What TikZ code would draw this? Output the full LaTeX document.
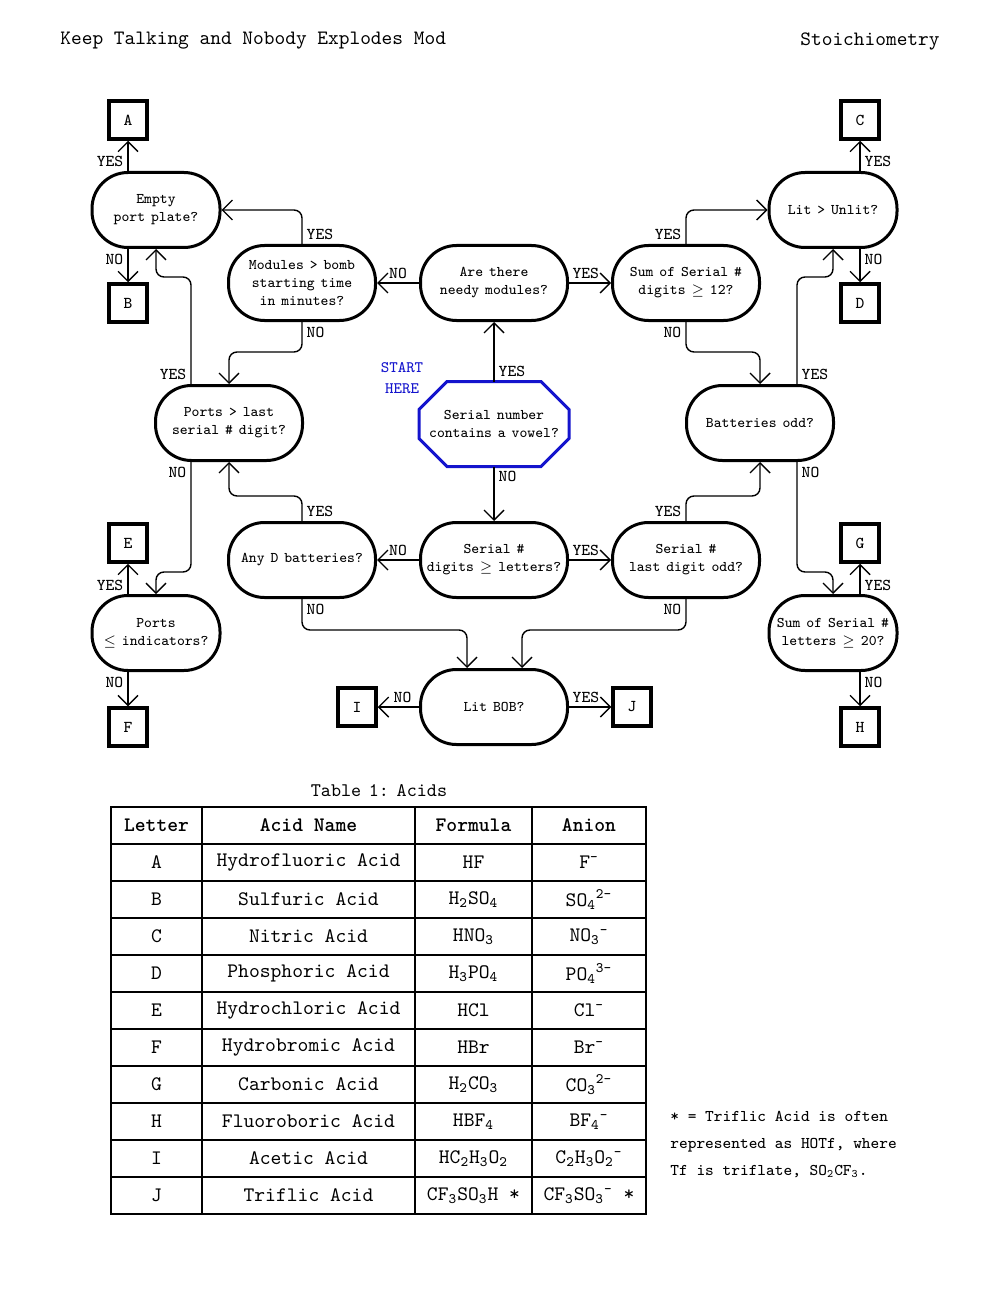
\documentclass[tikz,border=0pt]{standalone}
\usetikzlibrary{arrows.meta,positioning,calc}
\definecolor{startblue}{RGB}{20,20,205}
\frenchspacing
\newcommand\flowfont{\fontsize{7.4}{9}\selectfont\ttfamily\spaceskip=0.4em\relax}
\newcommand\titlefont{\fontsize{9.6}{12}\selectfont\ttfamily\spaceskip=0.4em\relax}
\tikzset{
  decision/.style={draw, line width=1.5pt, rounded corners=18pt, minimum width=73.5pt, minimum height=37.5pt, align=center, inner sep=1pt, font=\flowfont},
  smalldecision/.style={decision, minimum width=64pt},
  vowelbox/.style={minimum width=75pt, minimum height=42.5pt, outer sep=0pt, inner sep=0pt, align=center, font=\flowfont},
  letterbox/.style={draw, line width=1.75pt, minimum size=19pt, inner sep=0pt, font=\fontsize{8.3}{10}\selectfont\ttfamily},
  lbl/.style={inner sep=2pt, font=\fontsize{8.3}{10}\selectfont\ttfamily},
  link/.style={line width=0.7pt, rounded corners=4pt, -{Straight Barb[length=5pt,width=10pt]}},
  tablegrid/.style={line width=1pt},
  cell/.style={inner sep=0pt, font=\fontsize{10.3}{12}\selectfont\ttfamily},
  headcell/.style={cell, font=\fontsize{10.3}{12}\selectfont\ttfamily\bfseries},
}
\begin{document}
\begin{tikzpicture}[x=0.5pt,y=-0.5pt]
\useasboundingbox (0,0) rectangle (1000,1300);

% page header
\node[inner sep=0pt, anchor=west, font=\fontsize{10.2}{12}\selectfont\ttfamily] (modname) at (60,41) {Keep Talking and Nobody Explodes Mod};
\node[inner sep=0pt, anchor=east, font=\fontsize{10.2}{12}\selectfont\ttfamily] (modtitle) at (940,41) {Stoichiometry};

% decisions
\node[smalldecision] (empty) at (156,210) {Empty\\port plate?};
\node[letterbox] (A) at (128,120) {A};
\node[letterbox] (B) at (128,303) {B};
\node[decision] (modules) at (302,283) {Modules > bomb\\starting time\\in minutes?};
\node[decision] (needy) at (494,283) {Are there\\needy modules?};
\node[decision] (sumdigits) at (686,283) {Sum of Serial \#\\digits $\geq$ 12?};
\node[smalldecision] (lit) at (833,210) {Lit > Unlit?};
\node[letterbox] (C) at (860,120) {C};
\node[letterbox] (D) at (860,303) {D};

\node[decision] (portslast) at (229,423) {Ports > last\\serial \# digit?};
\node[vowelbox] (vowel) at (494,424) {Serial number\\contains a vowel?};
\node[align=center, text=startblue, font=\fontsize{8}{10.5}\selectfont\ttfamily] (start) at (402,378) {START\\HERE};
\node[decision] (battodd) at (760,423) {Batteries odd?};

\node[decision] (anyd) at (302,560) {Any D batteries?};
\node[decision] (digits) at (494,560) {Serial \#\\digits $\geq$ letters?};
\node[decision] (lastodd) at (686,560) {Serial \#\\last digit odd?};

\node[smalldecision] (portsind) at (156,633) {Ports\\$\leq$ indicators?};
\node[letterbox] (E) at (128,543) {E};
\node[letterbox] (F) at (128,727) {F};
\node[smalldecision] (sumletters) at (833,633) {Sum of Serial \#\\letters $\geq$ 20?};
\node[letterbox] (G) at (860,543) {G};
\node[letterbox] (H) at (860,727) {H};

\node[decision] (litbob) at (494,707) {Lit BOB?};
\node[letterbox] (I) at (357,707) {I};
\node[letterbox] (J) at (632,707) {J};

% start octagon
\draw[startblue, line width=1.5pt] ([xshift=14pt]vowel.north west) -- ([xshift=-14pt]vowel.north east) -- ([yshift=-14pt]vowel.north east) -- ([yshift=14pt]vowel.south east) -- ([xshift=-14pt]vowel.south east) -- ([xshift=14pt]vowel.south west) -- ([yshift=14pt]vowel.south west) -- ([yshift=-14pt]vowel.north west) -- cycle;

% straight links
\draw[link] (A |- empty.north) -- node[lbl, left, pos=0.3] (yesA) {YES} (A);
\draw[link] (B |- empty.south) -- node[lbl, left, pos=0.3] (noB) {NO} (B);
\draw[link] (C |- lit.north) -- node[lbl, right, pos=0.3] (yesC) {YES} (C);
\draw[link] (D |- lit.south) -- node[lbl, right, pos=0.3] (noD) {NO} (D);
\draw[link] (E |- portsind.north) -- node[lbl, left, pos=0.3] (yesE) {YES} (E);
\draw[link] (F |- portsind.south) -- node[lbl, left, pos=0.3] (noF) {NO} (F);
\draw[link] (G |- sumletters.north) -- node[lbl, right, pos=0.3] (yesG) {YES} (G);
\draw[link] (H |- sumletters.south) -- node[lbl, right, pos=0.3] (noH) {NO} (H);
\draw[link] (needy.west) -- node[lbl, above] (noneedy) {NO} (modules.east);
\draw[link] (needy.east) -- node[lbl, above, pos=0.4] (yesneedy) {YES} (sumdigits.west);
\draw[link] (digits.west) -- node[lbl, above] (nodigits) {NO} (anyd.east);
\draw[link] (digits.east) -- node[lbl, above, pos=0.4] (yesdigits) {YES} (lastodd.west);
\draw[link] (litbob.west) -- node[lbl, above, pos=0.4] (nobob) {NO} (I);
\draw[link] (litbob.east) -- node[lbl, above, pos=0.4] (yesbob) {YES} (J);
\draw[link] (vowel.north) node[lbl, anchor=south west] (yesvowel) {YES} -- (needy.south);
\draw[link] (vowel.south) node[lbl, anchor=north west] (novowel) {NO} -- (digits.north);

% bent links
\draw[link] (modules.north) node[lbl, anchor=south west] (yesmod) {YES} |- (empty.east);
\draw[link] (modules.south) node[lbl, anchor=north west] (nomod) {NO} -- ++(0,30) -| (portslast.north);
\draw[link] ([xshift=-19pt]portslast.north) node[lbl, anchor=south east] (yesports) {YES} -- ++(0,-107) -| (empty.south);
\draw[link] ([xshift=-19pt]portslast.south) node[lbl, anchor=north east] (noports) {NO} -- ++(0,110) -| (portsind.north);
\draw[link] (anyd.north) node[lbl, anchor=south west] (yesanyd) {YES} -- ++(0,-25) -| (portslast.south);
\draw[link] (anyd.south) node[lbl, anchor=north west] (noanyd) {NO} -- ++(0,31) -| ([xshift=-13.5pt]litbob.north);
\draw[link] (sumdigits.north) node[lbl, anchor=south east] (yessum) {YES} |- (lit.west);
\draw[link] (sumdigits.south) node[lbl, anchor=north east] (nosum) {NO} -- ++(0,30) -| (battodd.north);
\draw[link] ([xshift=18.5pt]battodd.north) node[lbl, anchor=south west] (yesbatt) {YES} -- ++(0,-107) -| (lit.south);
\draw[link] ([xshift=18.5pt]battodd.south) node[lbl, anchor=north west] (nobatt) {NO} -- ++(0,110) -| (sumletters.north);
\draw[link] (lastodd.north) node[lbl, anchor=south east] (yeslast) {YES} -- ++(0,-25) -| (battodd.south);
\draw[link] (lastodd.south) node[lbl, anchor=north east] (nolast) {NO} -- ++(0,31) -| ([xshift=14pt]litbob.north);

% table of acids
\node[inner sep=0pt, font=\titlefont] (tabtitle) at (379,791) {Table 1: Acids};
\draw[tablegrid] (111,807) rectangle (646,1214);
\foreach \y in {844,881,...,1177} \draw[tablegrid] (111,\y) -- (646,\y);
\foreach \x in {202,415,532} \draw[tablegrid] (\x,807) -- (\x,1214);
\foreach \x/\t [count=\c] in {156.5/Letter, 308.5/Acid Name, 473.5/Formula, 589/Anion}
  \node[headcell] (head-\c) at (\x,825.5) {\t};
\foreach \l/\n/\f/\a [count=\i] in {
  A/Hydrofluoric Acid/HF/F\textsuperscript{-},
  B/Sulfuric Acid/H\textsubscript{2}SO\textsubscript{4}/SO\textsubscript{4}\textsuperscript{2-},
  C/Nitric Acid/HNO\textsubscript{3}/NO\textsubscript{3}\textsuperscript{-},
  D/Phosphoric Acid/H\textsubscript{3}PO\textsubscript{4}/PO\textsubscript{4}\textsuperscript{3-},
  E/Hydrochloric Acid/HCl/Cl\textsuperscript{-},
  F/Hydrobromic Acid/HBr/Br\textsuperscript{-},
  G/Carbonic Acid/H\textsubscript{2}CO\textsubscript{3}/CO\textsubscript{3}\textsuperscript{2-},
  H/Fluoroboric Acid/HBF\textsubscript{4}/BF\textsubscript{4}\textsuperscript{-},
  I/Acetic Acid/HC\textsubscript{2}H\textsubscript{3}O\textsubscript{2}/C\textsubscript{2}H\textsubscript{3}O\textsubscript{2}\textsuperscript{-},
  J/Triflic Acid/CF\textsubscript{3}SO\textsubscript{3}H */CF\textsubscript{3}SO\textsubscript{3}\textsuperscript{-} *}{
  \node[cell] (let-\i) at (156.5,{825.5+37*\i}) {\l};
  \node[cell] (name-\i) at (308.5,{825.5+37*\i}) {\n};
  \node[cell] (form-\i) at (473.5,{825.5+37*\i}) {\f};
  \node[cell] (anion-\i) at (589,{825.5+37*\i}) {\a};
}

% footnote
\node[inner sep=0pt, anchor=west, align=left, font=\fontsize{8.2}{13.5}\selectfont\ttfamily] (footnote) at (670,1144) {* = Triflic Acid is often\\represented as HOTf, where\\Tf is triflate, SO\textsubscript{2}CF\textsubscript{3}.};
\end{tikzpicture}
\end{document}
